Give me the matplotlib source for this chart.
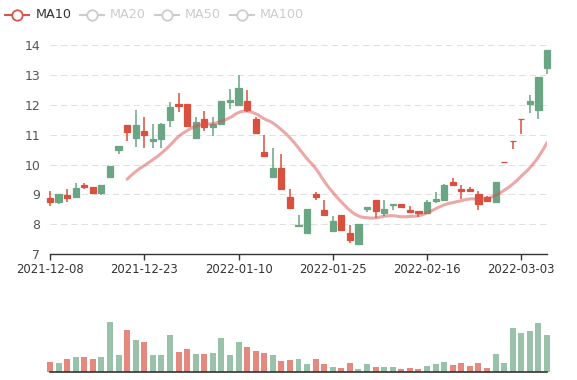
import matplotlib
matplotlib.use("Agg")
import matplotlib.pyplot as plt
from matplotlib.path import Path
from matplotlib.patches import PathPatch
from matplotlib.lines import Line2D
import numpy as np

# ---------------- data ----------------
dates = [
    "2021-12-08", "2021-12-09", "2021-12-10", "2021-12-13", "2021-12-14", "2021-12-15",
    "2021-12-16", "2021-12-17", "2021-12-20", "2021-12-21", "2021-12-22", "2021-12-23",
    "2021-12-24", "2021-12-27", "2021-12-28", "2021-12-29", "2021-12-30", "2021-12-31",
    "2022-01-04", "2022-01-05", "2022-01-06", "2022-01-07", "2022-01-10", "2022-01-11",
    "2022-01-12", "2022-01-13", "2022-01-14", "2022-01-17", "2022-01-18", "2022-01-19",
    "2022-01-20", "2022-01-21", "2022-01-24", "2022-01-25", "2022-01-26", "2022-01-27",
    "2022-01-28", "2022-02-07", "2022-02-08", "2022-02-09", "2022-02-10", "2022-02-11",
    "2022-02-14", "2022-02-15", "2022-02-16", "2022-02-17", "2022-02-18", "2022-02-21",
    "2022-02-22", "2022-02-23", "2022-02-24", "2022-02-25", "2022-02-28", "2022-03-01",
    "2022-03-02", "2022-03-03", "2022-03-04", "2022-03-07", "2022-03-08",
]
open_ = [8.89, 8.73, 8.97, 8.90, 9.30, 9.26, 9.06, 9.58, 10.47, 11.31,
         10.89, 11.11, 10.78, 10.85, 11.50, 12.03, 12.03, 10.90, 11.51, 11.25,
         11.34, 12.08, 11.99, 12.12, 11.53, 10.42, 9.57, 9.88, 8.92, 7.93,
         7.70, 9.03, 8.48, 7.79, 8.31, 7.72, 7.34, 8.51, 8.81, 8.38,
         8.63, 8.68, 8.48, 8.44, 8.39, 8.79, 8.82, 9.42, 9.17, 9.17,
         9.02, 8.92, 8.74, 10.07, 10.79, 11.53, 12.02, 11.82, 13.22]
close = [8.73, 9.00, 8.88, 9.20, 9.24, 9.06, 9.31, 9.96, 10.61, 11.09,
         11.31, 10.99, 10.85, 11.37, 11.91, 11.95, 11.30, 11.41, 11.25, 11.36,
         12.12, 12.16, 12.56, 11.83, 11.04, 10.28, 9.88, 9.17, 8.53, 7.98,
         8.50, 8.92, 8.30, 8.12, 7.81, 7.48, 8.01, 8.57, 8.46, 8.51,
         8.69, 8.59, 8.41, 8.37, 8.73, 8.85, 9.32, 9.32, 9.11, 9.11,
         8.68, 8.78, 9.43, 10.07, 10.79, 11.53, 12.13, 12.94, 13.83]
low = [8.61, 8.68, 8.76, 8.90, 9.17, 9.06, 8.99, 9.58, 10.35, 10.80,
       10.58, 10.55, 10.55, 10.57, 11.25, 11.77, 11.30, 10.90, 11.11, 10.96,
       11.34, 11.86, 11.99, 11.77, 11.04, 10.28, 9.57, 9.17, 8.53, 7.92,
       7.70, 8.81, 8.30, 7.79, 7.81, 7.39, 7.34, 8.40, 8.20, 8.29,
       8.48, 8.56, 8.41, 8.26, 8.39, 8.70, 8.82, 9.30, 8.85, 9.09,
       8.48, 8.74, 8.74, 10.04, 10.52, 11.01, 11.72, 11.53, 13.03]
high = [9.10, 9.00, 9.17, 9.38, 9.39, 9.26, 9.31, 9.96, 10.61, 11.31,
        11.84, 11.60, 11.35, 11.38, 12.09, 12.41, 12.03, 11.60, 11.80, 11.60,
        12.12, 12.52, 13.01, 12.50, 11.60, 11.00, 10.55, 10.35, 9.18, 8.31,
        8.50, 9.09, 8.81, 8.28, 8.31, 7.98, 8.01, 8.57, 8.81, 8.81,
        8.69, 8.68, 8.61, 8.44, 8.82, 9.07, 9.35, 9.55, 9.30, 9.25,
        9.12, 8.96, 9.43, 10.08, 10.80, 11.54, 12.32, 12.94, 13.83]
volume = [310000, 280000, 380000, 450000, 440000, 380000, 440000, 1490000, 500000, 1250000,
          970000, 890000, 510000, 510000, 1110000, 610000, 680000, 550000, 530000, 580000,
          1020000, 500000, 900000, 740000, 630000, 580000, 520000, 340000, 370000, 380000,
          230000, 390000, 240000, 160000, 110000, 260000, 100000, 240000, 160000, 140000,
          140000, 90000, 110000, 100000, 180000, 240000, 290000, 220000, 270000, 180000,
          270000, 130000, 540000, 270000, 1310000, 1160000, 1240000, 1480000, 1110000]
ma_period = 10
legend_labels = ["MA10", "MA20", "MA50", "MA100"]
y_ticks = [7, 8, 9, 10, 11, 12, 13, 14]
label_interval = 11

# ---------------- style ----------------
UP = "#6aa584"
DOWN = "#d9503f"
MA_COLOR = "#d9534f"
W, H = 577, 380

fig = plt.figure(figsize=(W / 100, H / 100), dpi=100)

def px_axes(left, top, right, bottom):
    return fig.add_axes([left / W, 1 - bottom / H, (right - left) / W, (bottom - top) / H])

x = np.arange(len(dates))
o = np.array(open_); c = np.array(close); lo = np.array(low); hi = np.array(high)
vol = np.array(volume)

# ---------------- candlestick axes ----------------
ax = px_axes(50, 45, 547, 254.2)
ax.set_xlim(0, len(dates) - 1)
ax.set_ylim(7, 14)

candle_colors = [UP if cc > oo else DOWN for oo, cc in zip(o, c)]
ax.vlines(x, lo, hi, colors=candle_colors, linewidth=1.1, zorder=3, clip_on=False)
bottoms = np.minimum(o, c)
heights = np.abs(c - o)
ax.bar(x, heights, bottom=bottoms, width=0.72, color=candle_colors,
       edgecolor=candle_colors, linewidth=0.9, zorder=4, clip_on=False)

# MA10 (moving average of close, smooth curve like the original)
ma = np.convolve(c, np.ones(ma_period) / ma_period, mode="valid")
mx = x[ma_period - 1:]
pts = np.column_stack([mx, ma])
s = 0.25
verts = [tuple(pts[0])]
codes = [Path.MOVETO]
n = len(pts)
for i in range(n - 1):
    p_prev = pts[i - 1] if i > 0 else pts[i]
    p0 = pts[i]
    p1 = pts[i + 1]
    p_next = pts[i + 2] if i + 2 < n else pts[i + 1]
    cp1 = p0 + (p1 - p_prev) * s
    cp2 = p1 - (p_next - p0) * s
    verts += [tuple(cp1), tuple(cp2), tuple(p1)]
    codes += [Path.CURVE4] * 3
ax.add_patch(PathPatch(Path(verts, codes), facecolor="none", edgecolor=MA_COLOR,
                       linewidth=2.2, alpha=0.5, zorder=5, capstyle="round"))

ax.set_yticks(y_ticks)
ax.set_yticklabels([str(t) for t in y_ticks])
for t in y_ticks[1:]:
    ax.axhline(t, color="#e0e0e0", linewidth=0.75, linestyle=(0, (6, 4)), zorder=1)
tick_idx = list(range(0, len(dates), label_interval))
ax.set_xticks(tick_idx)
ax.set_xticklabels([dates[i] for i in tick_idx])
for sp in ["top", "right", "left"]:
    ax.spines[sp].set_visible(False)
ax.spines["bottom"].set_color("#333333")
ax.spines["bottom"].set_linewidth(1.0)
ax.tick_params(axis="y", length=0, pad=7, labelsize=9.0, labelcolor="#555555")
ax.tick_params(axis="x", length=4, width=1.0, color="#333333", pad=2,
               labelsize=8.4, labelcolor="#333333")

# ---------------- volume axes ----------------
vax = px_axes(50, 312, 547, 372)
vax.set_xlim(0, len(dates) - 1)
vax.set_ylim(0, 1.8e6)
vol_colors = [DOWN if oo > cc else UP for oo, cc in zip(o, c)]
vax.bar(x, vol, width=0.7, color=vol_colors, alpha=0.68, linewidth=0,
        zorder=2, clip_on=False)
for sp in ["top", "right", "left"]:
    vax.spines[sp].set_visible(False)
vax.spines["bottom"].set_color("#333333")
vax.spines["bottom"].set_linewidth(1.2)
vax.spines["bottom"].set_zorder(5)
vax.set_xticks([]); vax.set_yticks([])

# ---------------- legend ----------------
ly = 1 - 15 / H
icon_x = [5, 80, 155, 230]
text_x = [36, 110, 185, 260]
for k, lab in enumerate(legend_labels):
    col = MA_COLOR if k == 0 else "#cccccc"
    tcol = "#333333" if k == 0 else "#cccccc"
    x0 = icon_x[k]
    fig.add_artist(Line2D([x0 / W, (x0 + 24) / W], [ly, ly], color=col, linewidth=1.5,
                          transform=fig.transFigure))
    fig.add_artist(Line2D([(x0 + 12) / W], [ly], marker="o", markersize=7.5,
                          markerfacecolor="white", markeredgecolor=col,
                          markeredgewidth=1.3, transform=fig.transFigure))
    fig.text(text_x[k] / W, ly, lab, color=tcol, fontsize=9.2, va="center", ha="left")

fig.savefig("out.png", dpi=100)
